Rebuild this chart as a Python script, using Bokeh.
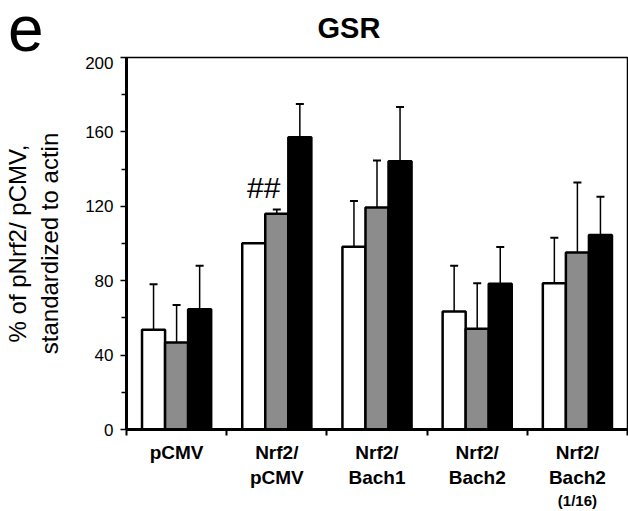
from bokeh.plotting import figure
from bokeh.models import (ColumnDataSource, FixedTicker, Whisker, TeeHead,
                          Range1d)
from bokeh.layouts import column
from bokeh.core.properties import value
from bokeh.embed import file_html
from bokeh.resources import INLINE

# ---- data ----
categories = ["pCMV", "Nrf2/\npCMV", "Nrf2/\nBach1", "Nrf2/\nBach2", "Nrf2/\nBach2"]
sub_note = "(1/16)"
series_names = ["white", "gray", "black"]
white_vals = [53.6, 100.1, 98.3, 63.5, 78.6]
white_err = [78.1, None, 122.8, 88.1, 103.1]
gray_vals = [46.8, 116.0, 119.4, 54.2, 95.1]
gray_err = [66.9, 118.3, 144.6, 78.6, 132.8]
black_vals = [64.7, 157.1, 144.2, 78.3, 104.6]
black_err = [88.1, 175.0, 173.4, 98.1, 125.1]
y_ticks = [0, 40, 80, 120, 160, 200]
y_minor = [20, 60, 100, 140, 180]
title_text = "GSR"
panel_letter = "e"
y_label = "% of pNrf2/ pCMV,\nstandardized to actin"
sig_text = "##"
sig_x, sig_y = 1.37, 130

FONT = "Liberation Sans"
W = 628
TOP_H = 56
FRAME_H = 373
MAIN_BOTTOM = 60
MAIN_H = 1 + FRAME_H + MAIN_BOTTOM
BOT_H = 511 - TOP_H - MAIN_H
LEFT, RIGHT = 120, 1

xr = Range1d(0, len(categories))


def strip(height):
    f = figure(width=W, height=height, output_backend="svg",
               toolbar_location=None, x_range=xr, y_range=Range1d(0, height),
               min_border_left=LEFT, min_border_right=RIGHT, min_border_top=0,
               min_border_bottom=0)
    f.xaxis.visible = False
    f.grid.visible = False
    f.outline_line_color = None
    return f


# ---- header strip: title in the frame, panel letter as a y tick label ----
top = strip(TOP_H)
top.text(x=[2.22], y=[TOP_H - 27.5], text=[title_text], text_font=value(FONT),
         text_font_size="29px", text_font_style="bold", text_align="center",
         text_baseline="middle", text_color="black")
e_pos = TOP_H - 39
ty = top.yaxis[0]
ty.ticker = FixedTicker(ticks=[e_pos], minor_ticks=[])
ty.major_label_overrides = {e_pos: panel_letter}
ty.axis_line_color = None
ty.major_tick_line_color = None
ty.minor_tick_line_color = None
ty.major_tick_out = 0
ty.major_label_standoff = 83
ty.major_label_text_font = FONT
ty.major_label_text_font_size = "64px"
ty.major_label_text_color = "black"

# ---- main chart ----
p = figure(width=W, height=MAIN_H, output_backend="svg", toolbar_location=None,
           x_range=xr, y_range=Range1d(0, 200),
           min_border_left=LEFT, min_border_right=RIGHT, min_border_top=1,
           min_border_bottom=MAIN_BOTTOM)
p.grid.visible = False
p.background_fill_color = "white"
p.border_fill_color = "white"
p.outline_line_color = "black"
p.outline_line_width = 1.5

bw = 0.23
fills = ["white", "#8c8c8c", "black"]
vals = [white_vals, gray_vals, black_vals]
errs = [white_err, gray_err, black_err]
for k in range(3):
    off = (k - 1) * bw
    xs = [i + 0.5 + off for i in range(len(categories))]
    p.vbar(x=xs, top=vals[k], bottom=0, width=bw, fill_color=fills[k],
           line_color="black", line_width=2.5)
for k in range(3):
    off = (k - 1) * bw
    xs, lo, hi = [], [], []
    for i in range(len(categories)):
        if errs[k][i] is not None:
            xs.append(i + 0.5 + off)
            lo.append(vals[k][i])
            hi.append(errs[k][i])
    src = ColumnDataSource(dict(base=xs, lower=lo, upper=hi))
    w = Whisker(source=src, base="base", lower="lower", upper="upper",
                dimension="height", line_color="black", line_width=1.5,
                lower_head=None,
                upper_head=TeeHead(size=8, line_color="black", line_width=2))
    p.add_layout(w)

p.text(x=[sig_x], y=[sig_y], text=[sig_text], text_font=value(FONT),
       text_font_size="30px", text_align="center", text_baseline="middle",
       text_color="black")

# y axis
ya = p.yaxis[0]
ya.ticker = FixedTicker(ticks=y_ticks, minor_ticks=y_minor)
ya.axis_line_width = 3
ya.axis_line_color = "black"
ya.major_tick_in = 0
ya.major_tick_out = 6
ya.minor_tick_in = 0
ya.minor_tick_out = 5
ya.major_tick_line_width = 1.5
ya.minor_tick_line_width = 1.5
ya.major_label_text_font = FONT
ya.major_label_text_font_size = "17px"
ya.major_label_text_color = "black"
ya.major_label_standoff = 7
ya.axis_label = y_label
ya.axis_label_text_font = FONT
ya.axis_label_text_font_size = "24px"
ya.axis_label_text_font_style = "normal"
ya.axis_label_text_color = "black"
ya.axis_label_standoff = 19

# x axis
xa = p.xaxis[0]
centers = [i + 0.5 for i in range(len(categories))]
xa.ticker = FixedTicker(ticks=centers,
                        minor_ticks=list(range(len(categories) + 1)))
xa.major_label_overrides = {c: lab for c, lab in zip(centers, categories)}
xa.axis_line_width = 3
xa.axis_line_color = "black"
xa.major_tick_in = 0
xa.major_tick_out = 0
xa.minor_tick_in = 0
xa.minor_tick_out = 6
xa.minor_tick_line_width = 2
xa.major_label_text_font = FONT
xa.major_label_text_font_size = "19px"
xa.major_label_text_font_style = "bold"
xa.major_label_text_color = "black"
xa.major_label_standoff = 6

# ---- footer strip: sub note under the last category ----
bot = strip(BOT_H)
bot.yaxis.visible = False
bot.text(x=[centers[-1]], y=[BOT_H - 10], text=[sub_note], text_font=value(FONT),
         text_font_size="15px", text_font_style="bold", text_align="center",
         text_baseline="middle", text_color="black")

layout = column(top, p, bot, spacing=0)
open("out.html", "w").write(file_html(layout, INLINE))
